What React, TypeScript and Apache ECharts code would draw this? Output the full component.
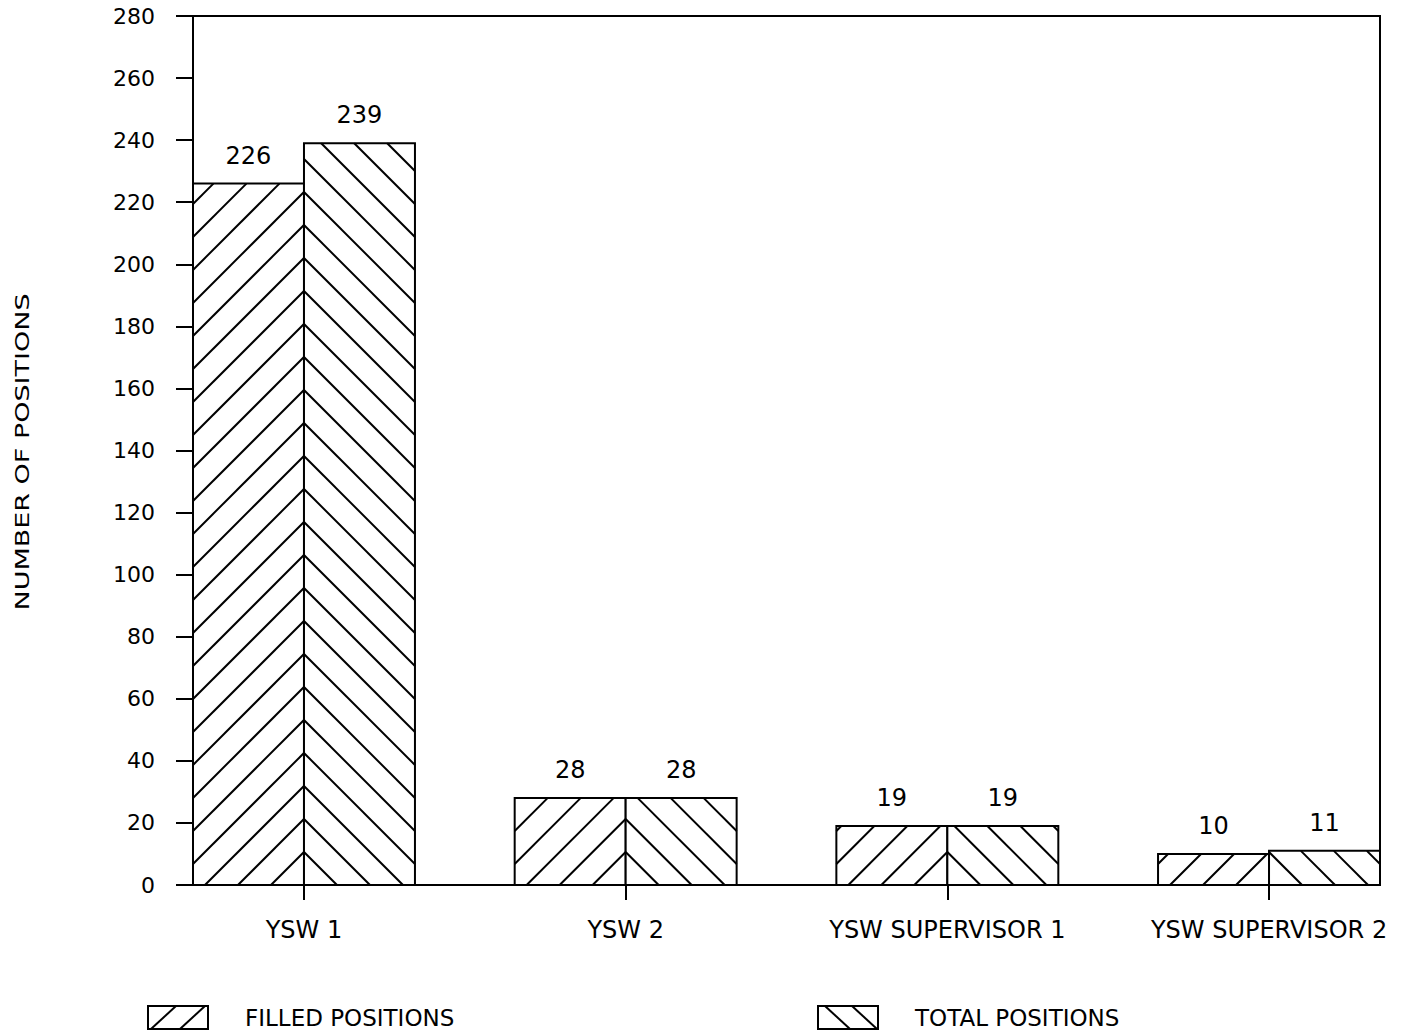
import React, { useEffect, useRef } from "react";
import * as echarts from "echarts";

const categories = ["YSW 1", "YSW 2", "YSW SUPERVISOR 1", "YSW SUPERVISOR 2"];
const filledPositions = [226, 28, 19, 10];
const totalPositions = [239, 28, 19, 11];
const yMin = 0;
const yMax = 280;
const yStep = 20;
const yTitle = "NUMBER OF POSITIONS";
const legendNames = ["FILLED POSITIONS", "TOTAL POSITIONS"];

const FONT = "DejaVu Sans";
const BAR_HALF = 0.345; // width of one bar in category units
const HATCH = 33; // hatch spacing in px

function makeRender(side: number) {
  return (params: any, api: any) => {
    const i = api.value(0);
    const v = api.value(1);
    const base = api.coord([i, 0]);
    const top = api.coord([i, v]);
    const w = api.size([BAR_HALF, 0])[0];
    const xc = base[0];
    const yb = base[1];
    const yt = top[1];
    const x0 = side < 0 ? xc - w : xc;
    const children: any[] = [
      { type: "rect", shape: { x: x0, y: yt, width: w, height: yb - yt }, style: { fill: "#fff" } },
    ];
    for (let k = 1; k < 200; k++) {
      const yk = yb - HATCH * k;
      if (yk + w <= yt) break;
      const y1 = Math.max(yk, yt);
      const y2 = Math.min(yb, yk + w);
      if (y2 > y1) {
        children.push({
          type: "line",
          shape: { x1: xc + side * (y1 - yk), y1, x2: xc + side * (y2 - yk), y2 },
          style: { stroke: "#000", lineWidth: 2 },
        });
      }
    }
    children.push({
      type: "rect",
      shape: { x: x0, y: yt, width: w, height: yb - yt },
      style: { fill: "none", stroke: "#000", lineWidth: 2 },
    });
    children.push({
      type: "text",
      style: {
        text: String(v),
        x: xc + (side * w) / 2,
        y: yt - 16,
        align: "center",
        verticalAlign: "bottom",
        fontSize: 24,
        fontFamily: FONT,
        fill: "#000",
      },
    });
    return { type: "group", children };
  };
}

function legendItem(x: number, textX: number, side: number, name: string) {
  const y = 1006;
  const w = 60;
  const h = 23;
  const lines =
    side < 0
      ? [
          [x + 3, y + h, x + 28, y],
          [x + 32, y + h, x + 57, y],
        ]
      : [
          [x + 7, y, x + 32, y + h],
          [x + 34, y, x + 59, y + h],
        ];
  return [
    { type: "rect", shape: { x, y, width: w, height: h }, style: { fill: "#fff", stroke: "#000", lineWidth: 2 } },
    ...lines.map((l) => ({
      type: "line",
      shape: { x1: l[0], y1: l[1], x2: l[2], y2: l[3] },
      style: { stroke: "#000", lineWidth: 2 },
    })),
    {
      type: "text",
      style: { text: name, x: textX, y: y + h / 2, verticalAlign: "middle", fontSize: 23, fontFamily: FONT, fill: "#000" },
    },
  ];
}

export default function App() {
  const ref = useRef<HTMLDivElement>(null);
  useEffect(() => {
    if (!ref.current) return;
    const chart = echarts.init(ref.current, null, { renderer: "svg" });
    const idx = categories.map((_, i) => i);
    const lineStyle = { color: "#000", width: 2 };
    chart.setOption({
      animation: false,
      backgroundColor: "#fff",
      textStyle: { fontFamily: FONT, color: "#000" },
      grid: {
        left: 193,
        top: 16,
        right: 29,
        bottom: 151,
        show: true,
        borderColor: "#000",
        borderWidth: 2,
        backgroundColor: "transparent",
      },
      xAxis: {
        type: "value",
        min: -BAR_HALF,
        max: categories.length - 1 + BAR_HALF,
        splitLine: { show: false },
        axisLine: { show: true, onZero: false, lineStyle },
        axisTick: { show: true, customValues: idx, length: 15, lineStyle },
        axisLabel: {
          customValues: idx,
          formatter: (v: number) => categories[Math.round(v)] ?? "",
          fontSize: 24,
          margin: 33,
          color: "#000",
          fontFamily: FONT,
        },
      },
      yAxis: {
        type: "value",
        min: yMin,
        max: yMax,
        interval: yStep,
        splitLine: { show: false },
        axisLine: { show: true, onZero: false, lineStyle },
        axisTick: { show: true, length: 17, lineStyle },
        axisLabel: { fontSize: 22, margin: 38, color: "#000", fontFamily: FONT },
      },
      series: [
        {
          type: "custom",
          name: legendNames[0],
          data: filledPositions.map((v, i) => [i, v]),
          encode: { x: 0, y: 1 },
          renderItem: makeRender(-1),
        },
        {
          type: "custom",
          name: legendNames[1],
          data: totalPositions.map((v, i) => [i, v]),
          encode: { x: 0, y: 1 },
          renderItem: makeRender(1),
        },
      ],
      graphic: [
        {
          type: "text",
          x: 22,
          y: 452,
          rotation: Math.PI / 2,
          scaleX: 1.35,
          style: {
            text: yTitle,
            align: "center",
            verticalAlign: "middle",
            fontSize: 20,
            fontFamily: FONT,
            fill: "#000",
          },
        },
        ...legendItem(148, 245, -1, legendNames[0]),
        ...legendItem(818, 915, 1, legendNames[1]),
      ],
    });
    return () => chart.dispose();
  }, []);
  return (
    <div
      ref={ref}
      style={{ position: "fixed", left: 0, top: 0, width: "1409px", height: "1036px", background: "#fff" }}
    />
  );
}
